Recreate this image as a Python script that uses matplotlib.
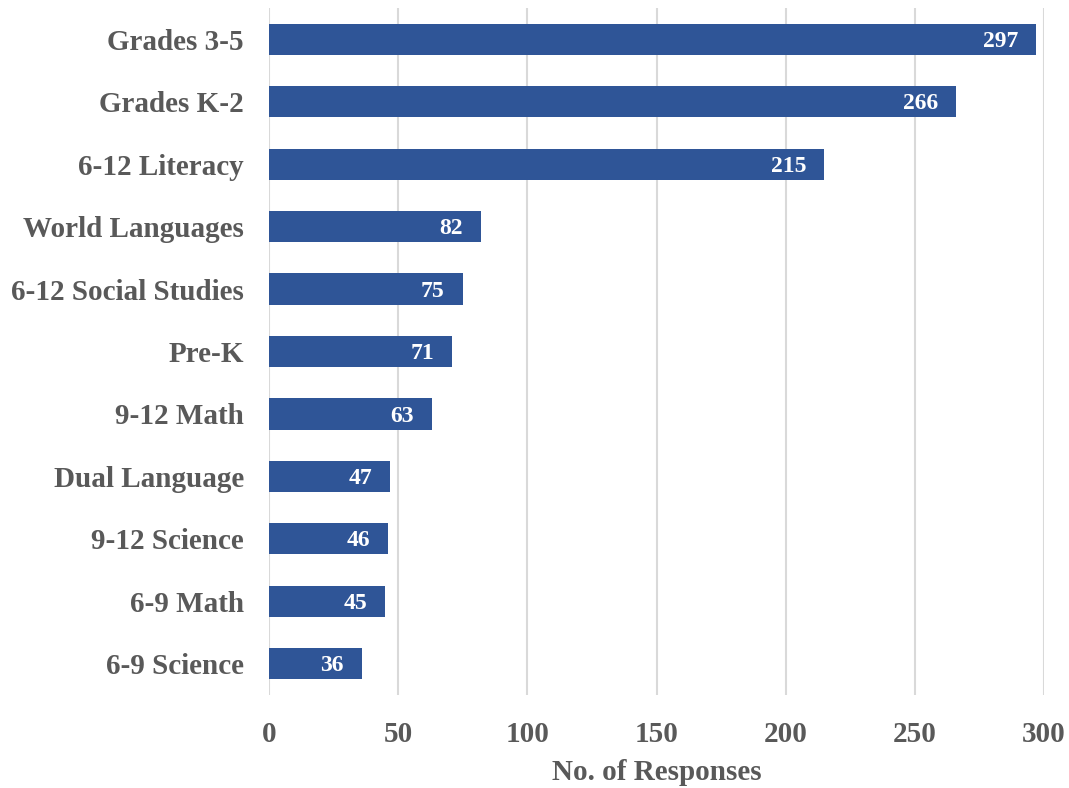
import matplotlib
matplotlib.use("Agg")
import matplotlib.pyplot as plt

categories = ["Grades 3-5", "Grades K-2", "6-12 Literacy", "World Languages",
              "6-12 Social Studies", "Pre-K", "9-12 Math", "Dual Language",
              "9-12 Science", "6-9 Math", "6-9 Science"]
values = [297, 266, 215, 82, 75, 71, 63, 47, 46, 45, 36]
xticks = [0, 50, 100, 150, 200, 250, 300]
xlabel = "No. of Responses"

plt.rcParams['font.family'] = ['Liberation Serif', 'DejaVu Serif']
plt.rcParams['font.weight'] = 'bold'

fig = plt.figure(figsize=(10.69, 7.88), dpi=100)
ax = fig.add_axes([269/1069, 1-695/788, (1044-269)/1069, (695-8)/788])

bar_color = "#2F5597"
text_color = "#595959"
n = len(categories)
ypos = list(range(n))
ax.barh(ypos, values, height=0.5, color=bar_color, zorder=3)
ax.set_ylim(n - 0.5, -0.5)
ax.set_xlim(0, 300)
ax.set_yticks(ypos)
ax.set_yticklabels(categories, fontsize=21, color=text_color, fontweight='bold')
ax.set_xticks(xticks)
ax.set_xticklabels([str(t) for t in xticks], fontsize=21, color=text_color, fontweight='bold')
ax.tick_params(axis='both', length=0)
ax.tick_params(axis='y', pad=18)
ax.tick_params(axis='x', pad=19)
ax.grid(axis='x', color='#D9D9D9', linewidth=1.5, zorder=0)
for s in ax.spines.values():
    s.set_visible(False)

axc = (269 + 1044) / 2 / 1069
fig.text(axc, 1 - 773/788, xlabel, ha='center', va='center', fontsize=21,
         color=text_color, fontweight='bold')

for y, v in zip(ypos, values):
    ax.annotate(str(v), xy=(v, y), xytext=(-13, -1.5), textcoords='offset points',
                ha='right', va='center', color='white', fontsize=17, fontweight='bold', zorder=4)

fig.savefig("out.png", dpi=100)
